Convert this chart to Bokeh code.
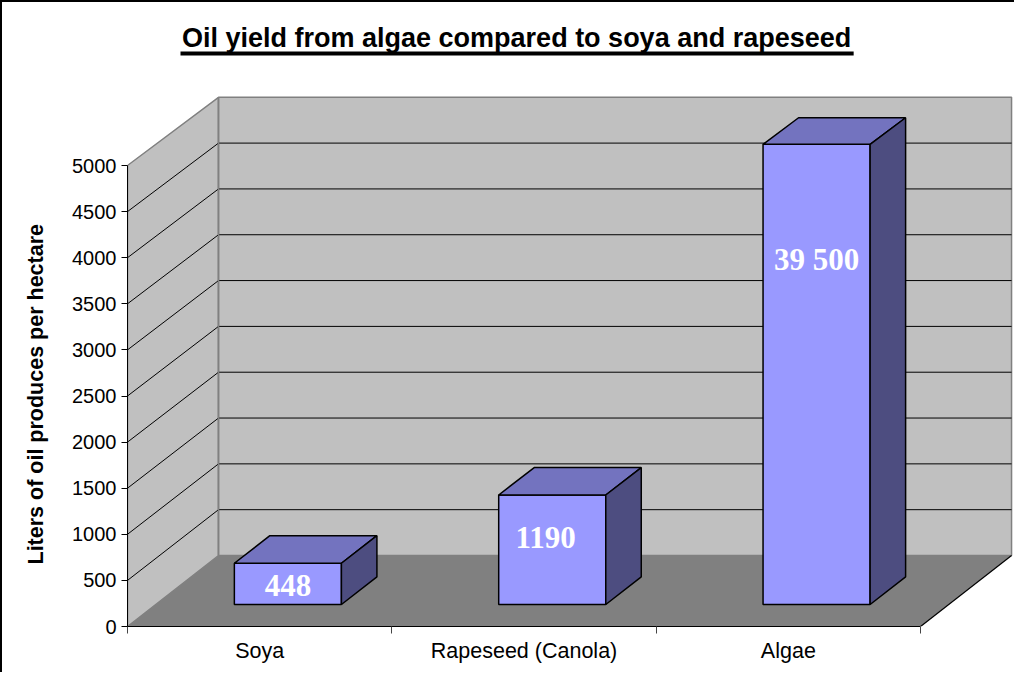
import numpy as np
from bokeh.plotting import figure
from bokeh.models import Range1d, FixedTicker, Label, ColumnDataSource, Title
from bokeh.core.properties import value
from bokeh.embed import file_html
from bokeh.resources import INLINE

# ---------------- data ----------------
title_text = "Oil yield from algae compared to soya and rapeseed"
y_axis_title = "Liters of oil produces per hectare"
categories = ["Soya", "Rapeseed (Canola)", "Algae"]
oil_yield = [448, 1190, 39500]
value_labels = ["448", "1190", "39 500"]
y_ticks = [0, 500, 1000, 1500, 2000, 2500, 3000, 3500, 4000, 4500, 5000]
y_max = 5000

# ---------------- layout / style constants ----------------
W, H = 1014, 672
X_END = 3.363          # frame right edge in category units
Y_END = 6768           # frame top in value units
DX = 0.3443            # full depth shift, x (category units)
DY = 770.0             # full depth shift, y (value units)
PERSP = 0.006          # slight perspective shrink at the back
D0, D1 = 0.31, 0.70    # depth span of the bars
BAR_W = 0.405
LABEL_FRAC = [0.46, 0.61, 0.75]
LABEL_DX = [0.0, -0.025, 0.0]
FONT = "Liberation Sans"
WALL = "#C0C0C0"
FLOOR = "#808080"
EDGE = "#808080"
FRONT = "#9999FF"
TOP = "#7373BF"
SIDE = "#4D4D80"

n = len(categories)


def proj(x, v, d):
    return x + d * DX, v * (1 - PERSP * d) + d * DY


p = figure(width=W, height=H, output_backend="svg", toolbar_location=None,
           x_range=Range1d(0, X_END), y_range=Range1d(0, Y_END),
           min_border_left=125, min_border_right=0, min_border_top=0,
           min_border_bottom=48,
           styles={"border-left": "2px solid black", "border-top": "2px solid black"})
p.background_fill_color = "white"
p.border_fill_color = "white"
p.outline_line_color = None
p.grid.visible = False

# ---------------- walls & floor ----------------
corners_left = [proj(0, 0, 0), proj(0, y_max, 0), proj(0, y_max, 1), proj(0, 0, 1)]
p.patch([c[0] for c in corners_left], [c[1] for c in corners_left],
        fill_color=WALL, line_color=EDGE, line_width=1.5)
corners_back = [proj(0, 0, 1), proj(n, 0, 1), proj(n, y_max, 1), proj(0, y_max, 1)]
p.patch([c[0] for c in corners_back], [c[1] for c in corners_back],
        fill_color=WALL, line_color=EDGE, line_width=1.5)

# gridlines on back wall and side wall
gx0, gx1, gx2, gy0, gy1, gy2 = [], [], [], [], [], []
for t in y_ticks[1:-1]:
    a = proj(0, t, 0)
    b = proj(0, t, 1)
    c = proj(n, t, 1)
    gx0.append(a[0]); gy0.append(a[1])
    gx1.append(b[0]); gy1.append(b[1])
    gx2.append(c[0]); gy2.append(c[1])
p.segment(gx0, gy0, gx1, gy1, line_color="black", line_width=1)
p.segment(gx1, gy1, gx2, gy2, line_color="black", line_width=1)
# wall corner edge
cb = proj(0, 0, 1); ct = proj(0, y_max, 1)
p.line([cb[0], ct[0]], [cb[1], ct[1]], line_color=EDGE, line_width=1.5)

corners_floor = [proj(0, 0, 0), proj(n, 0, 0), proj(n, 0, 1), proj(0, 0, 1)]
p.patch([c[0] for c in corners_floor], [c[1] for c in corners_floor],
        fill_color=FLOOR, line_color=None)
fr0 = proj(n, 0, 0); fr1 = proj(n, 0, 1)
p.line([fr0[0], fr1[0]], [fr0[1], fr1[1]], line_color="black", line_width=1.2)

# ---------------- 3D bars ----------------
shown = np.minimum(np.array(oil_yield, dtype=float), y_max)
front_xs, front_ys, top_xs, top_ys, side_xs, side_ys = [], [], [], [], [], []
lab_x, lab_y = [], []
for i, h in enumerate(shown):
    xl = i + 0.5 - BAR_W / 2
    xr = i + 0.5 + BAR_W / 2
    flb = proj(xl, 0, D0); frb = proj(xr, 0, D0)
    flt = proj(xl, h, D0); frt = proj(xr, h, D0)
    blt = proj(xl, h, D1); brt = proj(xr, h, D1); brb = proj(xr, 0, D1)
    front_xs.append([flb[0], frb[0], frt[0], flt[0]])
    front_ys.append([flb[1], frb[1], frt[1], flt[1]])
    top_xs.append([flt[0], frt[0], brt[0], blt[0]])
    top_ys.append([flt[1], frt[1], brt[1], blt[1]])
    side_xs.append([frb[0], brb[0], brt[0], frt[0]])
    side_ys.append([frb[1], brb[1], brt[1], frt[1]])
    lx, ly = proj(i + 0.5 + LABEL_DX[i], h * LABEL_FRAC[i], D0)
    lab_x.append(lx); lab_y.append(ly)

p.patches(front_xs, front_ys, fill_color=FRONT, line_color="black", line_width=1.5)
p.patches(top_xs, top_ys, fill_color=TOP, line_color="black", line_width=1.5)
p.patches(side_xs, side_ys, fill_color=SIDE, line_color="black", line_width=1.5)

lab_src = ColumnDataSource(dict(x=lab_x, y=lab_y, text=value_labels))
p.text("x", "y", text="text", source=lab_src, text_color="white",
       text_font=value("Liberation Serif"), text_font_style="bold",
       text_font_size="31px", text_align="center", text_baseline="middle")

# ---------------- axes ----------------
yax = p.yaxis[0]
yax.ticker = FixedTicker(ticks=y_ticks)
yax.bounds = (0, y_max)
yax.axis_line_color = "black"
yax.axis_line_width = 1
yax.major_tick_out = 6
yax.major_tick_in = 0
yax.minor_tick_out = 0
yax.minor_tick_in = 0
yax.major_label_standoff = 5
yax.major_label_text_font = FONT
yax.major_label_text_font_size = "20px"
yax.major_label_text_color = "black"

# y-axis title as a left-side title, anchored at the bottom of the 0..5000 span
p.add_layout(Title(text=y_axis_title, align="left", offset=62, standoff=40,
                   vertical_align="top",
                   text_font=FONT, text_font_style="bold", text_font_size="21.5px",
                   text_color="black"), "left")

xax = p.xaxis[0]
xax.ticker = FixedTicker(ticks=[i + 0.5 for i in range(n)], minor_ticks=list(range(n + 1)))
xax.bounds = (0, n)
xax.major_label_overrides = {i + 0.5: c for i, c in enumerate(categories)}
xax.axis_line_color = "black"
xax.axis_line_width = 1.2
xax.major_tick_out = 0
xax.major_tick_in = 0
xax.minor_tick_out = 7
xax.minor_tick_in = 0
xax.minor_tick_line_color = "#444444"
xax.major_label_standoff = 5
xax.major_label_text_font = FONT
xax.major_label_text_font_size = "21.5px"
xax.major_label_text_color = "black"

# ---------------- title (underlined) ----------------
title = Label(x=1.472, y=6382, text=title_text, text_font=FONT, text_font_style="bold",
              text_font_size="27px", text_align="center", text_baseline="alphabetic",
              text_color="black")
p.add_layout(title)
p.quad(left=[0.2005], right=[2.747], bottom=[6193], top=[6236], fill_color="black",
       line_color=None)

open("out.html", "w").write(file_html(p, INLINE))
